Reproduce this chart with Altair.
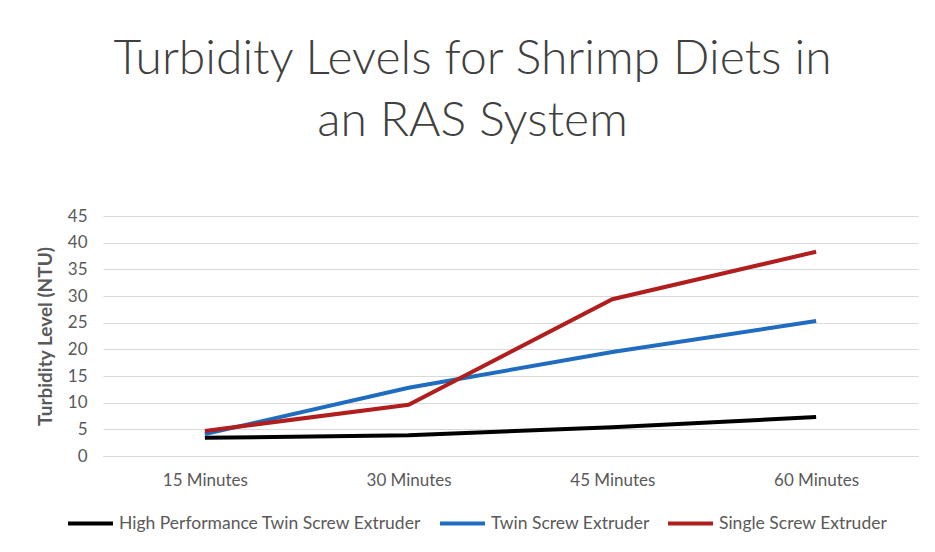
import altair as alt
import pandas as pd

times = ["15 Minutes", "30 Minutes", "45 Minutes", "60 Minutes"]
hp_twin = [3.4, 3.9, 5.4, 7.3]
twin = [4.1, 12.8, 19.5, 25.3]
single = [4.7, 9.6, 29.4, 38.3]
series_names = ["High Performance Twin Screw Extruder", "Twin Screw Extruder", "Single Screw Extruder"]
colors = ["#000000", "#1F6CC0", "#B01E1E"]
y_ticks = [0, 5, 10, 15, 20, 25, 30, 35, 40, 45]

rows = []
for name, vals in zip(series_names, [hp_twin, twin, single]):
    for t, v in zip(times, vals):
        rows.append({"Time": t, "Turbidity": v, "Series": name})
df = pd.DataFrame(rows)

FONT = "Lato"
GRAY = "#595959"

chart = alt.Chart(df).mark_line(strokeWidth=4).encode(
    x=alt.X("Time:N", sort=times, title=None,
            axis=alt.Axis(labelAngle=0, ticks=False, domainColor="#d9d9d9",
                          labelPadding=16, labelFont=FONT, labelFontSize=17,
                          labelColor=GRAY)),
    y=alt.Y("Turbidity:Q", title="Turbidity Level (NTU)",
            scale=alt.Scale(domain=[0, 45], nice=False),
            axis=alt.Axis(values=y_ticks, domain=False, ticks=False,
                          gridColor="#d9d9d9", labelPadding=16,
                          labelFont=FONT, labelFontSize=17, labelColor=GRAY,
                          titleFont=FONT, titleFontSize=19, titleFontWeight="bold",
                          titleColor=GRAY, titlePadding=12)),
    color=alt.Color("Series:N", sort=series_names,
                    scale=alt.Scale(domain=series_names, range=colors),
                    legend=alt.Legend(orient="none", legendX=-37, legendY=283,
                                      direction="horizontal", title=None,
                                      symbolType="stroke", symbolStrokeWidth=4,
                                      symbolSize=2025, labelFont=FONT,
                                      labelFontSize=17.5, labelColor=GRAY,
                                      labelLimit=500,
                                      columnPadding=10, labelOffset=4)),
    order=alt.Order("Time:N"),
).properties(
    width=815,
    height=240,
    title=alt.TitleParams(
        ["Turbidity Levels for Shrimp Diets in", "an RAS System"],
        font=FONT, fontSize=48, fontWeight=300, color="#404040",
        lineHeight=62, anchor="middle", baseline="bottom", offset=13, dx=-38,
    ),
    autosize=alt.AutoSizeParams(type="none"),
    padding={"left": 95, "top": 208, "right": 9, "bottom": 80},
).configure_view(stroke=None)

chart.save("out.html", embed_options={"renderer": "svg", "actions": False})
